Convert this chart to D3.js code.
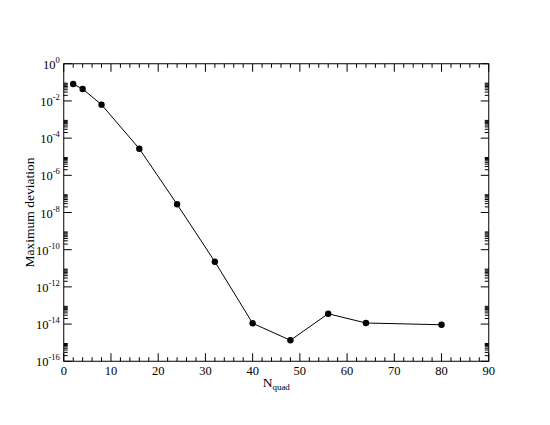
<!DOCTYPE html>
<html><head><meta charset="utf-8">
<script src="https://cdn.jsdelivr.net/npm/d3@7"></script>
<style>body{margin:0;background:#fff}svg{display:block}text{font-family:"Liberation Serif",serif}</style>
</head><body>
<script>
const nquad = [2, 4, 8, 16, 24, 32, 40, 48, 56, 64, 80];
const maxDev = [0.0815, 0.0439, 6.3e-3, 2.7e-5, 2.76e-8, 2.26e-11, 1.1e-14, 1.34e-15, 3.6e-14, 1.14e-14, 9.2e-15];
const xTicks = [0, 10, 20, 30, 40, 50, 60, 70, 80, 90];
const yExponents = [0, -2, -4, -6, -8, -10, -12, -14, -16];

const W = 550, H = 425;
const L = 63.75, R = 488.75, T = 63.75, B = 361.25;
const svg = d3.select("body").append("svg").attr("width", W).attr("height", H);
const x = d3.scaleLinear().domain([0, 90]).range([L, R]);
const y = d3.scaleLog().domain([1e-16, 1]).range([B, T]);

const g = svg.append("g").attr("stroke", "#000").attr("stroke-width", 1);
g.append("rect").attr("x", L).attr("y", T).attr("width", R - L).attr("height", B - T).attr("fill", "none");

const xMinor = d3.range(0, 91, 2).filter(v => v % 10 !== 0);
xTicks.forEach(v => {
  g.append("line").attr("x1", x(v)).attr("x2", x(v)).attr("y1", B).attr("y2", B - 8);
  g.append("line").attr("x1", x(v)).attr("x2", x(v)).attr("y1", T).attr("y2", T + 8);
});
xMinor.forEach(v => {
  g.append("line").attr("x1", x(v)).attr("x2", x(v)).attr("y1", B).attr("y2", B - 4);
  g.append("line").attr("x1", x(v)).attr("x2", x(v)).attr("y1", T).attr("y2", T + 4);
});
yExponents.forEach(e => {
  const yy = y(Math.pow(10, e));
  g.append("line").attr("x1", L).attr("x2", L + 8).attr("y1", yy).attr("y2", yy);
  g.append("line").attr("x1", R).attr("x2", R - 8).attr("y1", yy).attr("y2", yy);
  if (e < 0) {
    for (let k = 2; k <= 9; k++) {
      const ym = y(k * Math.pow(10, e));
      g.append("line").attr("x1", L).attr("x2", L + 4).attr("y1", ym).attr("y2", ym);
      g.append("line").attr("x1", R).attr("x2", R - 4).attr("y1", ym).attr("y2", ym);
    }
  }
});

svg.append("g").selectAll("text").data(xTicks).join("text")
  .attr("x", d => x(d)).attr("y", B + 14).attr("text-anchor", "middle")
  .attr("font-size", 12.5).text(d => d);

const yl = svg.append("g").selectAll("text").data(yExponents).join("text")
  .attr("x", L - 4).attr("y", d => y(Math.pow(10, d)) + 5).attr("text-anchor", "end")
  .attr("font-size", 12.5);
yl.append("tspan").text("10");
yl.append("tspan").attr("dy", -6).attr("font-size", 8.5).text(d => String(d));

svg.append("text").attr("transform", `translate(34,${(T + B) / 2}) rotate(-90)`)
  .attr("text-anchor", "middle").attr("font-size", 13.5)
  .text("Maximum deviation");
const xl = svg.append("text").attr("x", (L + R) / 2).attr("y", B + 26).attr("text-anchor", "middle")
  .attr("font-size", 13.5).attr("fill", "#000");
xl.append("tspan").text("N");
xl.append("tspan").attr("dy", 3).attr("font-size", 9).text("quad");

const line = d3.line().x((d, i) => x(nquad[i])).y(d => y(d));
svg.append("path").datum(maxDev).attr("d", line).attr("fill", "none").attr("stroke", "#000").attr("stroke-width", 1);
svg.append("g").selectAll("circle").data(maxDev).join("circle")
  .attr("cx", (d, i) => x(nquad[i])).attr("cy", d => y(d)).attr("r", 3.2).attr("fill", "#000");
</script>
</body></html>
